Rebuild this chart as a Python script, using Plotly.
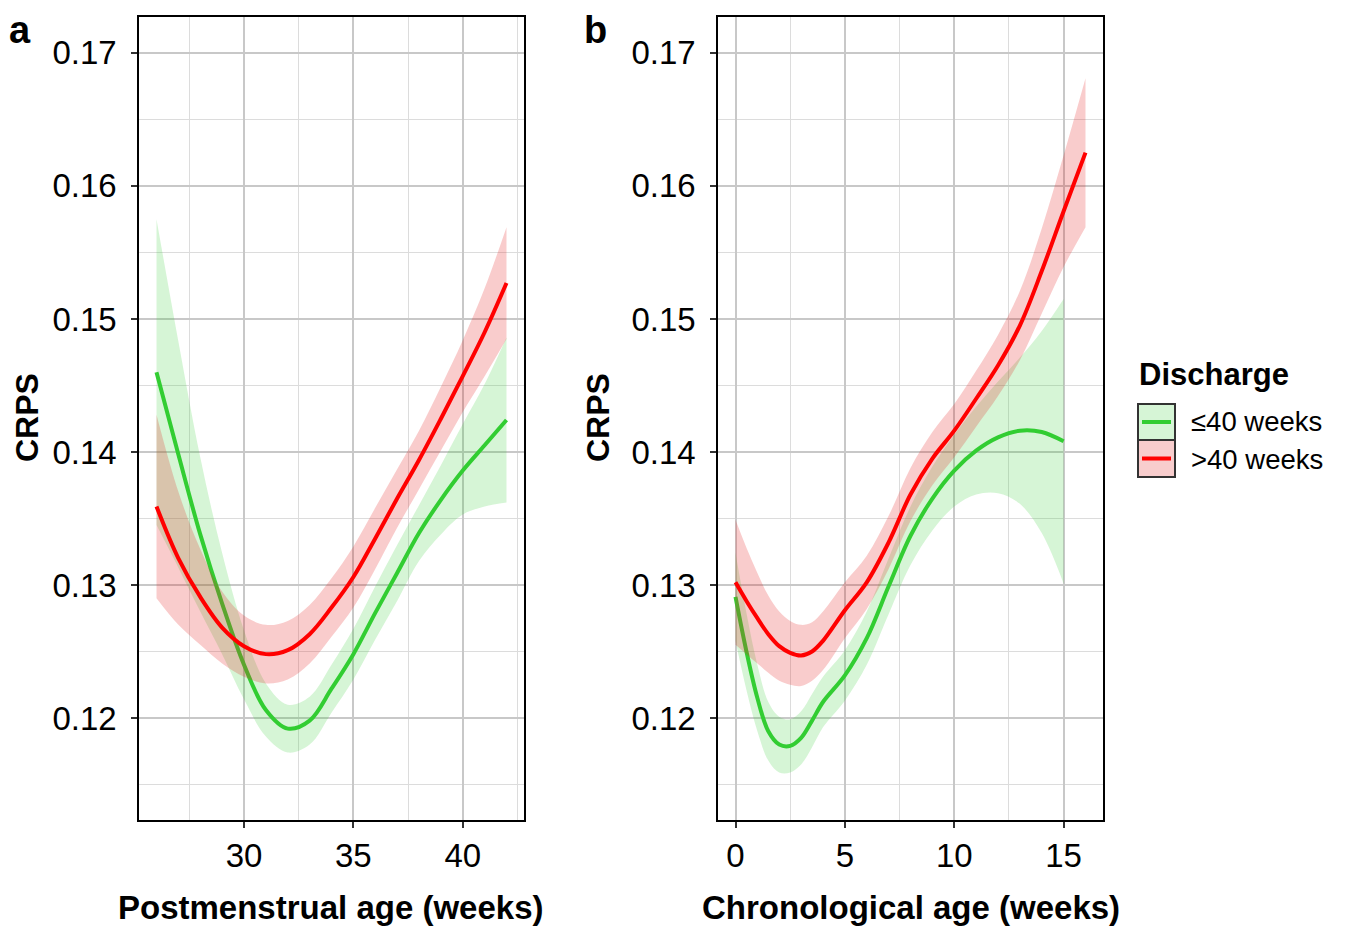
import plotly.graph_objects as go

# ---------------- data ----------------
# Panel a: postmenstrual age (weeks)
a_x = [26, 27, 28, 29, 30, 31, 32, 33, 34, 35, 36, 37, 38, 39, 40, 41, 42]
a_green_mean = [0.1460, 0.1398, 0.1338, 0.1286, 0.1240, 0.1206, 0.1192, 0.1198, 0.1222,
                0.1248, 0.1279, 0.1309, 0.1339, 0.1364, 0.1386, 0.1405, 0.1424]
a_green_lo = [0.1345, 0.1313, 0.1280, 0.1248, 0.1214, 0.1186, 0.1174, 0.1180, 0.1204,
              0.1229, 0.1259, 0.1288, 0.1318, 0.1338, 0.1353, 0.1359, 0.1362]
a_green_hi = [0.1575, 0.1483, 0.1396, 0.1324, 0.1266, 0.1226, 0.1210, 0.1216, 0.1240,
              0.1267, 0.1299, 0.1330, 0.1360, 0.1390, 0.1421, 0.1451, 0.1486]
a_red_mean = [0.1359, 0.1320, 0.1291, 0.1268, 0.1254, 0.1248, 0.1251, 0.1263, 0.1283,
              0.1306, 0.1335, 0.1365, 0.1394, 0.1425, 0.1457, 0.1490, 0.1527]
a_red_lo = [0.1290, 0.1270, 0.1255, 0.1241, 0.1231, 0.1226, 0.1229, 0.1241, 0.1261,
            0.1283, 0.1312, 0.1343, 0.1372, 0.1401, 0.1430, 0.1457, 0.1485]
a_red_hi = [0.1428, 0.1370, 0.1327, 0.1295, 0.1277, 0.1270, 0.1273, 0.1285, 0.1305,
            0.1329, 0.1358, 0.1387, 0.1416, 0.1449, 0.1484, 0.1523, 0.1569]

# Panel b: chronological age (weeks)
b_x_green = [0, 0.5, 1, 1.5, 2, 2.5, 3, 3.5, 4, 5, 6, 7, 8, 9, 10, 11, 12, 13, 14, 15]
b_green_mean = [0.1291, 0.1250, 0.1215, 0.1190, 0.1180, 0.1179, 0.1185, 0.1198, 0.1212, 0.1232,
                0.1260, 0.1299, 0.1337, 0.1365, 0.1386, 0.1401, 0.1411, 0.1416, 0.1415, 0.1408]
b_green_lo = [0.1258, 0.1221, 0.1190, 0.1168, 0.1159, 0.1159, 0.1165, 0.1178, 0.1193, 0.1213,
              0.1240, 0.1278, 0.1315, 0.1341, 0.1359, 0.1368, 0.1369, 0.1361, 0.1339, 0.1301]
b_green_hi = [0.1324, 0.1279, 0.1240, 0.1212, 0.1201, 0.1199, 0.1205, 0.1218, 0.1231, 0.1251,
              0.1280, 0.1320, 0.1359, 0.1389, 0.1413, 0.1434, 0.1453, 0.1471, 0.1491, 0.1515]

b_x_red = [0, 0.5, 1, 1.5, 2, 2.5, 3, 3.5, 4, 5, 6, 7, 8, 9, 10, 11, 12, 13, 14, 15, 16]
b_red_mean = [0.1302, 0.1288, 0.1275, 0.1263, 0.1254, 0.1249, 0.1247, 0.1250, 0.1258, 0.1281, 0.1302,
              0.1332, 0.1368, 0.1395, 0.1416, 0.1440, 0.1465, 0.1495, 0.1536, 0.1581, 0.1625]
b_red_lo = [0.1255, 0.1248, 0.1241, 0.1234, 0.1228, 0.1225, 0.1224, 0.1228, 0.1236, 0.1260, 0.1282,
            0.1312, 0.1348, 0.1375, 0.1396, 0.1419, 0.1442, 0.1469, 0.1504, 0.1539, 0.1569]
b_red_hi = [0.1349, 0.1328, 0.1309, 0.1292, 0.1280, 0.1273, 0.1270, 0.1272, 0.1280, 0.1302, 0.1322,
            0.1352, 0.1388, 0.1415, 0.1436, 0.1461, 0.1488, 0.1521, 0.1568, 0.1623, 0.1681]

a_ticks = [30, 35, 40]
b_ticks = [0, 5, 10, 15]
y_ticks = [0.12, 0.13, 0.14, 0.15, 0.16, 0.17]
y_ticklabels = ["0.12", "0.13", "0.14", "0.15", "0.16", "0.17"]
legend_labels = ["\u226440 weeks", ">40 weeks"]

# ---------------- style ----------------
FONT = "Liberation Sans, Arial, Helvetica, sans-serif"
GREEN = "#32CD32"
RED = "#FF0000"
GREEN_FILL = "rgba(50,205,50,0.2)"
RED_FILL = "rgba(228,35,35,0.23)"
W, H = 1356, 920   # page body has an 8px margin
OFF = 8


def px(x):
    return (x - OFF) / W


def py(y):
    return 1 - (y - OFF) / H


fig = go.Figure()


def add_group(xs, lo, hi, mean, fillc, linec, xa, ya):
    fig.add_trace(go.Scatter(x=xs, y=lo, mode="lines", line=dict(width=0, shape="spline", color=fillc),
                             hoverinfo="skip", showlegend=False, xaxis=xa, yaxis=ya))
    fig.add_trace(go.Scatter(x=xs, y=hi, mode="lines", line=dict(width=0, shape="spline", color=fillc),
                             fill="tonexty", fillcolor=fillc, hoverinfo="skip", showlegend=False,
                             xaxis=xa, yaxis=ya))
    fig.add_trace(go.Scatter(x=xs, y=mean, mode="lines", line=dict(width=4, shape="spline", color=linec),
                             showlegend=False, xaxis=xa, yaxis=ya))


add_group(a_x, a_green_lo, a_green_hi, a_green_mean, GREEN_FILL, GREEN, "x", "y")
add_group(a_x, a_red_lo, a_red_hi, a_red_mean, RED_FILL, RED, "x", "y")
add_group(b_x_green, b_green_lo, b_green_hi, b_green_mean, GREEN_FILL, GREEN, "x2", "y2")
add_group(b_x_red, b_red_lo, b_red_hi, b_red_mean, RED_FILL, RED, "x2", "y2")

axis_common = dict(
    showgrid=True, gridcolor="#c8c8c8", gridwidth=1.8, zeroline=False,
    ticks="outside", ticklen=6, tickwidth=1.5, tickcolor="#333333",
    showline=True, mirror=True, linecolor="black", linewidth=1.5,
    tickfont=dict(family=FONT, size=33, color="black"),
)
minor_x = dict(dtick=2.5, tick0=0, showgrid=True, gridcolor="#dcdcdc", gridwidth=1.3, ticks="")
minor_y = dict(dtick=0.005, tick0=0, showgrid=True, gridcolor="#dcdcdc", gridwidth=1.3, ticks="")

y_range = [0.11233, 0.1727]

fig.update_layout(
    width=W, height=H,
    margin=dict(l=0, r=0, t=0, b=0),
    paper_bgcolor="white", plot_bgcolor="white",
    showlegend=False,
    xaxis=dict(domain=[px(139), px(524)], range=[25.2, 42.8], tickvals=a_ticks, anchor="y",
               minor=minor_x, ticklabelstandoff=0, **axis_common),
    yaxis=dict(domain=[py(820), py(17)], range=y_range, tickvals=y_ticks, ticktext=y_ticklabels, anchor="x",
               minor=minor_y, ticklabelstandoff=8, **axis_common),
    xaxis2=dict(domain=[px(718), px(1103)], range=[-0.8, 16.8], tickvals=b_ticks, anchor="y2",
                minor=minor_x, ticklabelstandoff=0, **axis_common),
    yaxis2=dict(domain=[py(820), py(17)], range=y_range, tickvals=y_ticks, ticktext=y_ticklabels, anchor="x2",
                minor=minor_y, ticklabelstandoff=8, **axis_common),
)

ann = []


def text(x, y, s, size, bold=False, xanchor="center", yanchor="middle", angle=0, paper_y=None):
    ann.append(dict(x=px(x), y=py(y) if paper_y is None else paper_y, xref="paper", yref="paper",
                    showarrow=False, borderpad=0,
                    text=f"<b>{s}</b>" if bold else s, textangle=angle,
                    font=dict(family=FONT, size=size, color="black"),
                    xanchor=xanchor, yanchor=yanchor))


# panel letters
text(8, 0, "a", 38, bold=True, xanchor="left", yanchor="top", paper_y=1)
text(583, 0, "b", 38, bold=True, xanchor="left", yanchor="top", paper_y=1)
# axis titles
text(331, 907, "Postmenstrual age (weeks)", 33, bold=True)
text(911, 907, "Chronological age (weeks)", 33, bold=True)
text(8, 418, "CRPS", 32, bold=True, xanchor="left", angle=-90)
text(598, 418, "CRPS", 32, bold=True, angle=-90)
# legend
text(1138, 374, "Discharge", 31, bold=True, xanchor="left")
text(1190, 422, legend_labels[0], 27.5, xanchor="left")
text(1190, 459, legend_labels[1], 27.5, xanchor="left")

shapes = []
for (y0, y1, fillc, linec, ly) in [(404, 440, "#d6f5d6", GREEN, 422), (440, 477, "#f8cdcd", RED, 458.5)]:
    shapes.append(dict(type="rect", xref="paper", yref="paper", x0=px(1138), x1=px(1175),
                       y0=py(y1), y1=py(y0), fillcolor=fillc, line=dict(color="#333333", width=2)))
    shapes.append(dict(type="line", xref="paper", yref="paper", x0=px(1142), x1=px(1171),
                       y0=py(ly), y1=py(ly), line=dict(color=linec, width=4)))

fig.update_layout(annotations=ann, shapes=shapes)

fig.write_html("out.html")
